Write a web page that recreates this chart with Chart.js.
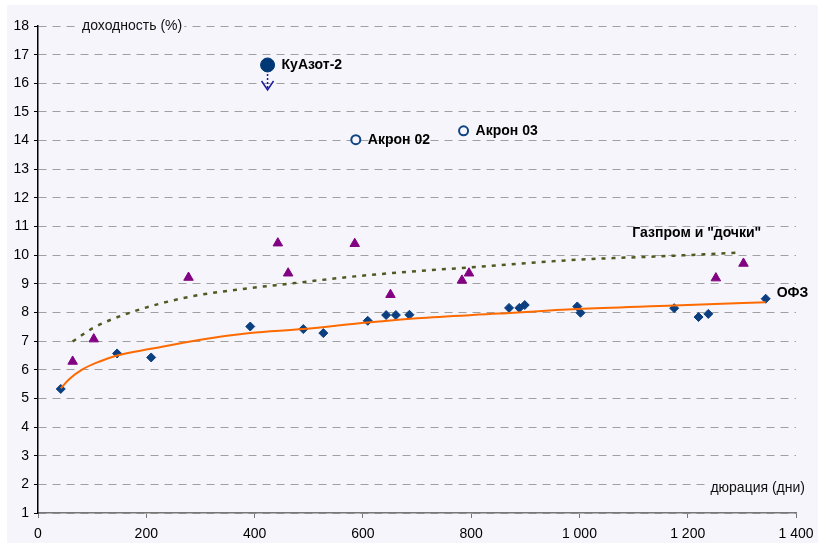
<!DOCTYPE html>
<html>
<head>
<meta charset="utf-8">
<script src="https://cdn.jsdelivr.net/npm/chart.js@4.4.0/dist/chart.umd.min.js"></script>
<style>
  body { margin: 0; background: #ffffff; }
  #wrap { position: absolute; left: 7px; top: 5px; width: 811px; height: 538px; background: #f5f5fb; }
</style>
</head>
<body>
<div id="wrap"><canvas id="bondChart" width="811" height="538"></canvas></div>
<script>
// ОФЗ: duration (days) / yield (%)
const ofzX = [42, 146, 209, 392, 490, 527, 609, 643, 661, 686, 870, 889, 899, 996, 1002, 1175, 1220, 1238, 1344];
const ofzY = [5.33, 6.57, 6.43, 7.51, 7.42, 7.28, 7.71, 7.91, 7.91, 7.92, 8.16, 8.16, 8.26, 8.21, 7.99, 8.15, 7.84, 7.95, 8.48];

// Газпром и "дочки"
const gazX = [64, 103, 278, 443, 462, 585, 651, 783, 796, 1252, 1303];
const gazY = [6.29, 7.07, 9.22, 10.42, 9.37, 10.40, 8.62, 9.12, 9.37, 9.20, 9.71];

// trend curves
const ofzTrendX = [42, 58, 83, 114, 146, 208, 300, 392, 490, 608, 700, 850, 996, 1175, 1344];
const ofzTrendY = [5.35, 5.68, 6.02, 6.29, 6.50, 6.73, 7.05, 7.28, 7.42, 7.65, 7.80, 7.96, 8.12, 8.24, 8.36];
const gazTrendX = [64, 103, 171, 278, 392, 462, 585, 705, 796, 996, 1175, 1297];
const gazTrendY = [6.99, 7.47, 8.00, 8.54, 8.85, 9.00, 9.26, 9.45, 9.57, 9.84, 9.98, 10.09];

// single issues
const kuazotX = [424];
const kuazotY = [16.64];
const akronX = [587, 786];
const akronY = [14.03, 14.34];
const akronNames = ['Акрон 02', 'Акрон 03'];

const xTicks = [0, 200, 400, 600, 800, 1000, 1200, 1400];
const yMin = 1, yMax = 18;

const BG = '#f5f5fb';
const FONT = '"Liberation Sans", Arial, sans-serif';

function pts(xs, ys) {
    return xs.map((x, i) => ({ x: x, y: ys[i] }));
}

function fmt(v) {
    return String(v).replace(/\B(?=(\d{3})+(?!\d))/g, ' ');
}

// text labels and arrow next to the marks
const labelPlugin = {
    id: 'labels',
    afterDatasetsDraw(chart) {
        const ctx = chart.ctx;
        const area = chart.chartArea;
        ctx.save();
        ctx.textBaseline = 'middle';

        // axis titles with background behind them
        ctx.font = '14px ' + FONT;
        ctx.textAlign = 'left';
        let t = 'доходность (%)';
        let w = ctx.measureText(t).width;
        ctx.fillStyle = BG;
        ctx.fillRect(area.left + 42, area.top - 7, w + 4, 15);
        ctx.fillStyle = '#111';
        ctx.fillText(t, area.left + 44, area.top);

        t = 'дюрация (дни)';
        w = ctx.measureText(t).width;
        ctx.fillStyle = BG;
        ctx.fillRect(area.right + 9 - w - 2, area.bottom - 33, w + 4, 15);
        ctx.fillStyle = '#111';
        ctx.textAlign = 'right';
        ctx.fillText(t, area.right + 9, area.bottom - 25);

        ctx.font = 'bold 14px ' + FONT;
        ctx.fillStyle = '#000';

        // КуАзот-2 + arrow
        const ku = chart.getDatasetMeta(4).data[0];
        ctx.textAlign = 'left';
        ctx.fillText('КуАзот-2', ku.x + 14, ku.y);
        ctx.strokeStyle = '#1a1aa0';
        ctx.lineWidth = 1.5;
        ctx.setLineDash([2, 2]);
        ctx.beginPath();
        ctx.moveTo(ku.x, ku.y + 9);
        ctx.lineTo(ku.x, ku.y + 24);
        ctx.stroke();
        ctx.setLineDash([]);
        ctx.beginPath();
        ctx.moveTo(ku.x - 6, ku.y + 16);
        ctx.lineTo(ku.x, ku.y + 25);
        ctx.lineTo(ku.x + 6, ku.y + 16);
        ctx.stroke();

        // Акрон
        const ak = chart.getDatasetMeta(5).data;
        ak.forEach((p, i) => {
            ctx.fillText(akronNames[i], p.x + 12, p.y);
        });

        // Газпром trend end
        const gt = chart.getDatasetMeta(1).data;
        const gEnd = gt[gt.length - 1];
        ctx.textAlign = 'right';
        ctx.fillText('Газпром и "дочки"', gEnd.x + 21, gEnd.y - 19);

        // ОФЗ last point
        const of = chart.getDatasetMeta(2).data;
        const oEnd = of[of.length - 1];
        ctx.textAlign = 'left';
        ctx.fillText('ОФЗ', oEnd.x + 11, oEnd.y - 6);

        ctx.restore();
    }
};

const ctx = document.getElementById('bondChart').getContext('2d');
new Chart(ctx, {
    type: 'scatter',
    data: {
        datasets: [
            {
                label: 'ОФЗ тренд',
                data: pts(ofzTrendX, ofzTrendY),
                showLine: true,
                borderColor: '#ff6a00',
                borderWidth: 2,
                pointRadius: 0,
                cubicInterpolationMode: 'monotone'
            },
            {
                label: 'Газпром тренд',
                data: pts(gazTrendX, gazTrendY),
                showLine: true,
                borderColor: '#4e5a22',
                borderWidth: 2.5,
                borderDash: [4, 6],
                pointRadius: 0,
                cubicInterpolationMode: 'monotone'
            },
            {
                label: 'ОФЗ',
                data: pts(ofzX, ofzY),
                pointStyle: 'rectRot',
                pointRadius: 4.5,
                backgroundColor: '#0b3f80',
                borderColor: '#0b3f80',
                borderWidth: 1
            },
            {
                label: 'Газпром и "дочки"',
                data: pts(gazX, gazY),
                pointStyle: 'triangle',
                pointRadius: 5.5,
                backgroundColor: '#820082',
                borderColor: '#820082',
                borderWidth: 1
            },
            {
                label: 'КуАзот-2',
                data: pts(kuazotX, kuazotY),
                pointStyle: 'circle',
                pointRadius: 7,
                backgroundColor: '#003876',
                borderColor: '#003876',
                borderWidth: 1
            },
            {
                label: 'Акрон',
                data: pts(akronX, akronY),
                pointStyle: 'circle',
                pointRadius: 4.5,
                backgroundColor: BG,
                borderColor: '#0f4383',
                borderWidth: 2
            }
        ]
    },
    options: {
        responsive: false,
        animation: false,
        layout: { padding: { top: 21, right: 22, left: 0, bottom: 0 } },
        scales: {
            x: {
                type: 'linear',
                min: 0,
                max: 1400,
                afterBuildTicks: (scale) => { scale.ticks = xTicks.map(v => ({ value: v })); },
                afterFit: (scale) => {
                    scale.height = 30;
                    scale.paddingLeft = 0;
                    scale.paddingRight = 0;
                },
                ticks: {
                    callback: (v) => fmt(v),
                    color: '#000',
                    font: { family: FONT, size: 14 },
                    padding: 8,
                    maxRotation: 0
                },
                grid: { drawOnChartArea: false, tickLength: 5, tickColor: '#777' },
                border: { color: '#777', width: 1.5 }
            },
            y: {
                min: yMin,
                max: yMax,
                afterFit: (scale) => { scale.width = 31; },
                ticks: {
                    stepSize: 1,
                    color: '#000',
                    font: { family: FONT, size: 14 },
                    padding: 5
                },
                grid: { color: '#a0a0a0', lineWidth: 1, tickLength: 4, tickColor: '#000' },
                border: { color: '#000', width: 1.5, dash: [8, 6] }
            }
        },
        plugins: {
            legend: { display: false },
            tooltip: { enabled: false }
        }
    },
    plugins: [labelPlugin]
});
</script>
</body>
</html>
